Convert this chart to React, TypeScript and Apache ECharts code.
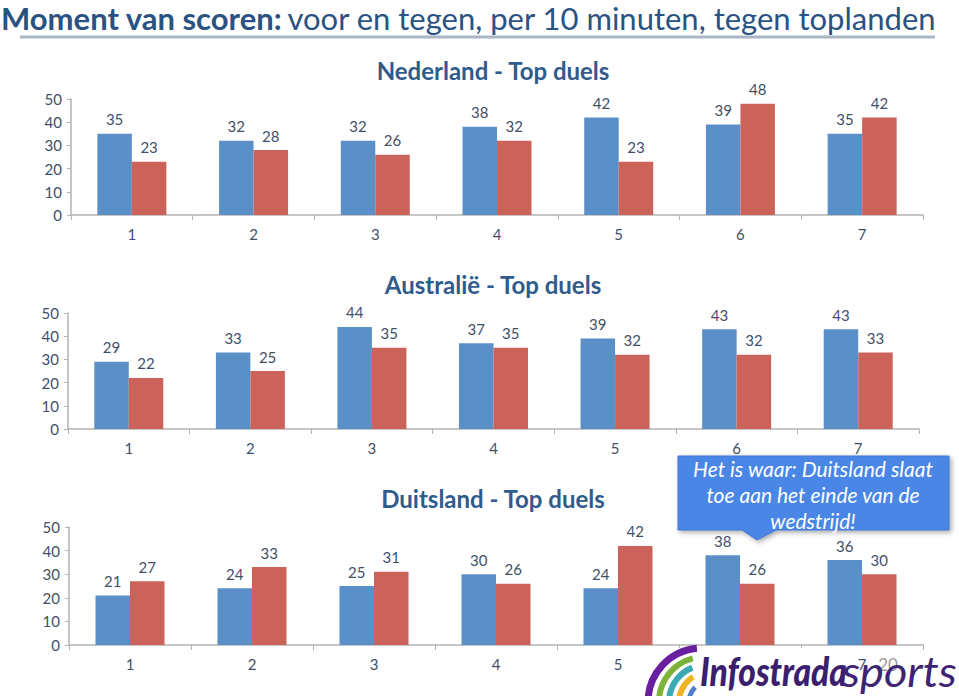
import React, { useEffect, useRef } from "react";
import * as echarts from "echarts";

const categories = ["1", "2", "3", "4", "5", "6", "7"];
const yTicks = [0, 10, 20, 30, 40, 50];

const nlTitle = "Nederland - Top duels";
const nlFor = [35, 32, 32, 38, 42, 39, 35];
const nlAgainst = [23, 28, 26, 32, 23, 48, 42];

const auTitle = "Australië - Top duels";
const auFor = [29, 33, 44, 37, 39, 43, 43];
const auAgainst = [22, 25, 35, 35, 32, 32, 33];

const deTitle = "Duitsland - Top duels";
const deFor = [21, 24, 25, 30, 24, 38, 36];
const deAgainst = [27, 33, 31, 26, 42, 26, 30];

const mainTitleBold = "Moment van scoren:";
const mainTitleRest = "voor en tegen, per 10 minuten, tegen toplanden";
const calloutText = "Het is waar: Duitsland slaat\ntoe aan het einde van de\nwedstrijd!";
const pageNumber = "20";

const BLUE = "#5b8fc8";
const RED = "#cc635b";
const TXT = "#3f5068";
const AXIS = "#b3b3b3";
const FONT = "Lato, 'Open Sans', sans-serif";

export default function App() {
  const ref = useRef<HTMLDivElement>(null);
  useEffect(() => {
    document.body.style.margin = "0";
    const chart = echarts.init(ref.current!, undefined, { renderer: "svg" });
    const grids = [
      { left: 71, right: 36, top: 99, height: 116 },
      { left: 68, right: 40, top: 313, height: 116 },
      { left: 69, right: 36, top: 527, height: 118 },
    ];
    const datasets = [
      [nlFor, nlAgainst],
      [auFor, auAgainst],
      [deFor, deAgainst],
    ];
    const xAxes = grids.map((_, i) => ({
      type: "category",
      gridIndex: i,
      data: categories,
      axisLine: { lineStyle: { color: AXIS, width: 1.5 } },
      axisTick: { show: true, length: 5, lineStyle: { color: AXIS } },
      axisLabel: {
        color: TXT,
        fontSize: 15,
        fontFamily: FONT,
        margin: 11,
        formatter: (v: string) => (i === 2 && v === "6" ? "" : v),
      },
    }));
    const yAxes = grids.map((_, i) => ({
      type: "value",
      gridIndex: i,
      min: yTicks[0],
      max: yTicks[yTicks.length - 1],
      interval: 10,
      splitLine: { show: false },
      axisLine: { show: true, lineStyle: { color: AXIS, width: 1.5 } },
      axisTick: { show: true, length: 4, lineStyle: { color: AXIS } },
      axisLabel: { color: TXT, fontSize: 15, fontFamily: FONT, margin: 9 },
    }));
    const series: any[] = [];
    datasets.forEach((pair, i) => {
      pair.forEach((vals, j) => {
        series.push({
          type: "bar",
          xAxisIndex: i,
          yAxisIndex: i,
          data: vals,
          barWidth: 34.5,
          barGap: "0%",
          itemStyle: { color: j === 0 ? BLUE : RED },
          label: {
            show: true,
            position: "top",
            distance: 7,
            color: TXT,
            fontSize: 15,
            fontFamily: FONT,
          },
        });
      });
    });
    const subTitle = (text: string, top: number) => ({
      text,
      left: 488,
      top,
      textAlign: "center",
      textStyle: { color: "#2f5b8d", fontSize: 24, fontWeight: "bold", fontFamily: FONT },
    });
    chart.setOption({
      animation: false,
      title: [
        {
          text: `{b|${mainTitleBold}} {n|${mainTitleRest}}`,
          left: 1,
          top: 0,
          padding: 0,
          textStyle: {
            rich: {
              b: { fontSize: 31, fontWeight: "bold", color: "#2a5282", fontFamily: FONT, lineHeight: 36 },
              n: { fontSize: 31, fontWeight: "normal", color: "#2a5282", fontFamily: FONT, lineHeight: 36 },
            },
          },
        },
        subTitle(nlTitle, 53),
        subTitle(auTitle, 267),
        subTitle(deTitle, 481),
      ],
      grid: grids,
      xAxis: xAxes,
      yAxis: yAxes,
      series,
      graphic: [
        {
          type: "line",
          shape: { x1: 20, y1: 37, x2: 935, y2: 37 },
          style: { stroke: "#a8b6c6", lineWidth: 3 },
          z: 50,
        },
        {
          type: "polygon",
          shape: {
            points: [
              [678, 456], [949, 456], [949, 530], [776, 530], [757, 540], [742, 530], [678, 530],
            ],
          },
          style: {
            fill: "#4a86e6",
            stroke: "#3f77d0",
            lineWidth: 1,
            shadowBlur: 5,
            shadowOffsetX: 2,
            shadowOffsetY: 2,
            shadowColor: "rgba(0,0,0,0.35)",
          },
          z: 100,
        },
        {
          type: "text",
          x: 813,
          y: 494,
          style: {
            text: calloutText,
            fill: "#ffffff",
            fontSize: 21,
            fontStyle: "italic",
            fontFamily: FONT,
            lineHeight: 26,
            align: "center",
            verticalAlign: "middle",
          },
          z: 101,
        },
        {
          type: "rect",
          shape: { x: 640, y: 648, width: 205, height: 48 },
          style: { fill: "#ffffff" },
          z: 100,
        },
        {
          type: "arc",
          shape: { cx: 702, cy: 702, r: 54, startAngle: Math.PI * 1.0, endAngle: Math.PI * 1.47 },
          style: { stroke: "#6a1fa0", lineWidth: 7, fill: "none" },
          z: 102,
        },
        {
          type: "arc",
          shape: { cx: 704, cy: 702, r: 45, startAngle: Math.PI * 1.0, endAngle: Math.PI * 1.42 },
          style: { stroke: "#7cb338", lineWidth: 6, fill: "none" },
          z: 102,
        },
        {
          type: "arc",
          shape: { cx: 706, cy: 702, r: 37, startAngle: Math.PI * 0.98, endAngle: Math.PI * 1.38 },
          style: { stroke: "#3aa9b5", lineWidth: 6, fill: "none" },
          z: 102,
        },
        {
          type: "arc",
          shape: { cx: 708, cy: 702, r: 29, startAngle: Math.PI * 0.95, endAngle: Math.PI * 1.33 },
          style: { stroke: "#f0b323", lineWidth: 6, fill: "none" },
          z: 102,
        },
        {
          type: "arc",
          shape: { cx: 710, cy: 702, r: 21, startAngle: Math.PI * 0.9, endAngle: Math.PI * 1.25 },
          style: { stroke: "#4f7fc8", lineWidth: 5, fill: "none" },
          z: 102,
        },
        {
          type: "text",
          x: 700,
          y: 671,
          scaleX: 0.86,
          style: {
            text: "Infostrada",
            fill: "#3b1f6e",
            fontSize: 39,
            fontWeight: 900,
            fontStyle: "italic",
            fontFamily: FONT,
            verticalAlign: "middle",
            align: "left",
          },
          z: 103,
        },
        {
          type: "text",
          x: 888,
          y: 664,
          style: {
            text: pageNumber,
            fill: "#9a9a9a",
            fontSize: 17,
            fontFamily: FONT,
            align: "center",
            verticalAlign: "middle",
          },
          z: 101,
        },
        {
          type: "text",
          x: 842,
          y: 670,
          scaleX: 1.05,
          style: {
            text: "sports",
            fill: "#3e2472",
            fontSize: 43,
            fontStyle: "italic",
            fontFamily: FONT,
            verticalAlign: "middle",
            align: "left",
          },
          z: 103,
        },
      ],
    });
    return () => chart.dispose();
  }, []);
  return <div ref={ref} style={{ width: 959, height: 696 }} />;
}
